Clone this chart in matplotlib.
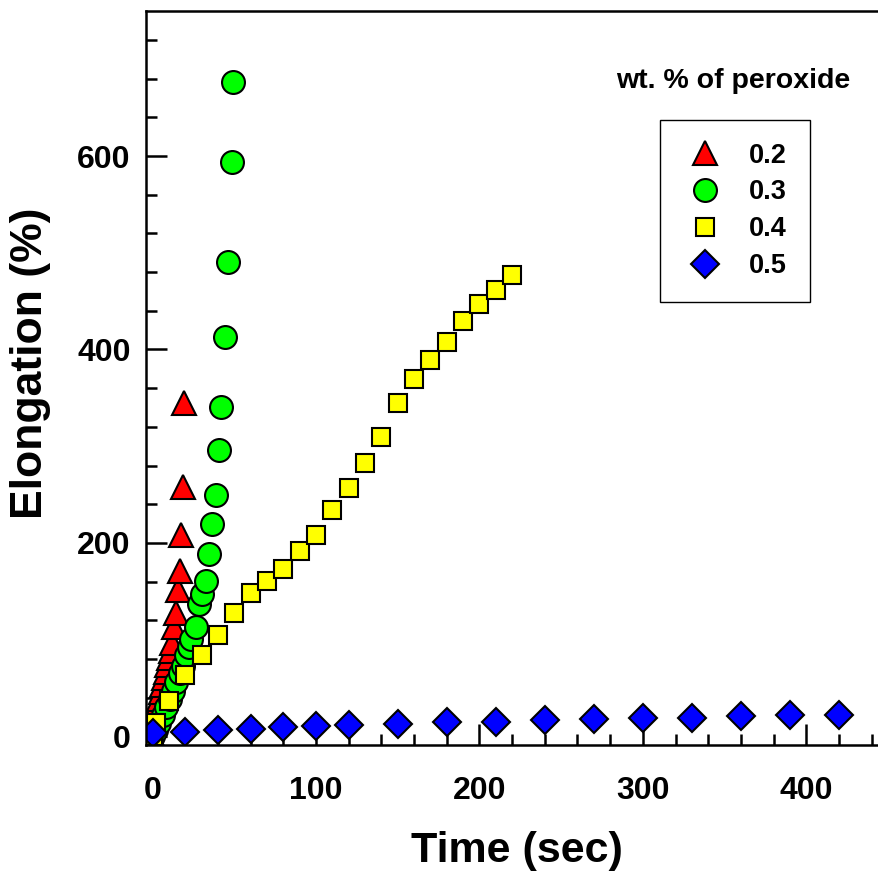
import matplotlib
matplotlib.use('Agg')
from matplotlib import pyplot as plt
import matplotlib.ticker as ticker

plt.rcParams['font.family'] = ['Liberation Sans', 'DejaVu Sans']
plt.rcParams['font.weight'] = 'bold'

# 0.2 wt.%
t_02 = [0, 1, 2, 3, 4, 5, 6, 7, 8, 9, 10, 11, 12, 13.4, 14.4, 15.5, 16.6, 17.4, 18.6, 19.4]
e_02 = [0, 12, 22, 31, 39, 46, 53, 60, 67, 74, 81, 88, 96, 113, 127, 151, 171, 208, 258, 345]
# 0.3 wt.%
t_03 = [0, 2, 4, 6.3, 8.4, 10.4, 12.4, 14.5, 16.6, 18.6, 20.6, 22.2, 23.7, 26.6, 28.3,
        30.0, 32.5, 34.4, 36.4, 38.7, 40.5, 42.1, 44.4, 46.4, 48.5, 49.2]
e_03 = [0, 7, 14, 22, 30, 39, 47, 56, 65, 73, 84, 92, 101, 113, 137,
        147, 161, 188, 220, 249, 296, 341, 413, 490, 594, 677]
# 0.4 wt.%
t_04 = [0, 2, 10, 20, 30, 40, 50, 60, 70, 80, 90, 100, 110, 120, 130, 140, 150,
        160, 170, 180, 190, 200, 210, 220]
e_04 = [0, 14, 37, 63, 84, 105, 127, 148, 161, 173, 192, 208, 234, 257, 283, 310, 345,
        369, 389, 408, 429, 447, 461, 477]
# 0.5 wt.%
t_05 = [0, 20, 40, 60, 80, 100, 120, 150, 180, 210, 240, 270, 300, 330, 360, 390, 420]
e_05 = [3, 4.5, 7, 8, 9.6, 10.6, 11.7, 12.4, 14.5, 15.2, 16.5, 17.6, 18.6, 19.3, 20.7, 21.7, 22]

labels = ['0.2', '0.3', '0.4', '0.5']

fig = plt.figure(figsize=(8.79, 8.75), dpi=100)
ax = fig.add_axes([146 / 879, 130 / 875, 742 / 879, 734 / 875])

kw = dict(ls='none', mec='black', mew=1.5)
ax.plot(t_02, e_02, marker='^', ms=17.5, mfc='#ff0000', label=labels[0], **kw)
ax.plot(t_03, e_03, marker='o', ms=16.5, mfc='#00ff00', label=labels[1], **kw)
ax.plot(t_04, e_04, marker='s', ms=13.5, mfc='#ffff00', label=labels[2], **kw)
ax.plot(t_05, e_05, marker='D', ms=14.5, mfc='#0000ff', label=labels[3], **kw)

ax.set_xlim(-4, 450)
ax.set_ylim(-9, 750)
ax.xaxis.set_major_locator(ticker.MultipleLocator(100))
ax.xaxis.set_minor_locator(ticker.MultipleLocator(20))
ax.yaxis.set_major_locator(ticker.MultipleLocator(200))
ax.yaxis.set_minor_locator(ticker.MultipleLocator(40))
ax.tick_params(which='both', direction='in', width=1.8, labelsize=23)
ax.tick_params(which='major', length=15)
ax.tick_params(which='minor', length=8)
ax.tick_params(axis='x', pad=22)
ax.tick_params(axis='y', pad=11)
for s in ax.spines.values():
    s.set_linewidth(1.8)

ax.set_xlabel('Time (sec)', fontsize=31, fontweight='bold')
ax.xaxis.set_label_coords(0.5, -0.117)
ax.set_ylabel('Elongation (%)', fontsize=32, fontweight='bold')
ax.yaxis.set_label_coords(-0.128, 0.52)

ax.text(0.792, 0.905, 'wt. % of peroxide', transform=ax.transAxes, ha='center', va='center',
        fontsize=20.5, fontweight='bold')
leg = ax.legend(loc='upper left', bbox_to_anchor=(0.6927, 0.852), numpoints=1,
                prop={'size': 19.5, 'weight': 'bold'}, frameon=True, fancybox=False,
                framealpha=1, edgecolor='black', borderpad=0.85, labelspacing=0.4,
                handletextpad=0.85, handlelength=1.6, borderaxespad=0)
leg.get_frame().set_linewidth(1.0)

plt.savefig('out.png', dpi=100)
